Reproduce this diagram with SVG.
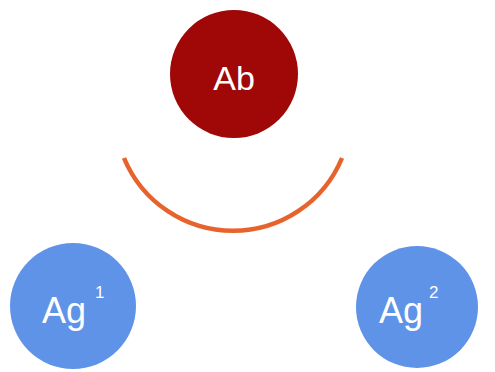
<svg xmlns="http://www.w3.org/2000/svg" width="495" height="372" viewBox="0 0 495 372">
<style>
.lbl{font-family:"Liberation Sans",Arial,sans-serif;fill:#ffffff;}
.main{font-size:34px;}
.agt{font-size:36px;}
.sup{font-size:17px;}
.ag{fill:#5f93e8;}
</style>
<rect width="495" height="372" fill="#ffffff"/>
<g id="connectors">
<path d="M 124 158 A 118 118 0 0 0 342 158" fill="none" stroke="#e8622c" stroke-width="4.5"/>
</g>
<g id="Ab">
<circle cx="234" cy="74" r="64" fill="#a00808"/>
<text class="lbl main" x="234" y="90" text-anchor="middle">Ab</text>
</g>
<g id="Ag1">
<circle class="ag" cx="73" cy="306" r="63"/>
<text class="lbl agt" x="42" y="323">Ag</text>
<text class="lbl sup" x="95" y="298">1</text>
</g>
<g id="Ag2">
<circle class="ag" cx="417" cy="307" r="61"/>
<text class="lbl agt" x="379" y="323">Ag</text>
<text class="lbl sup" x="429" y="298">2</text>
</g>
</svg>
